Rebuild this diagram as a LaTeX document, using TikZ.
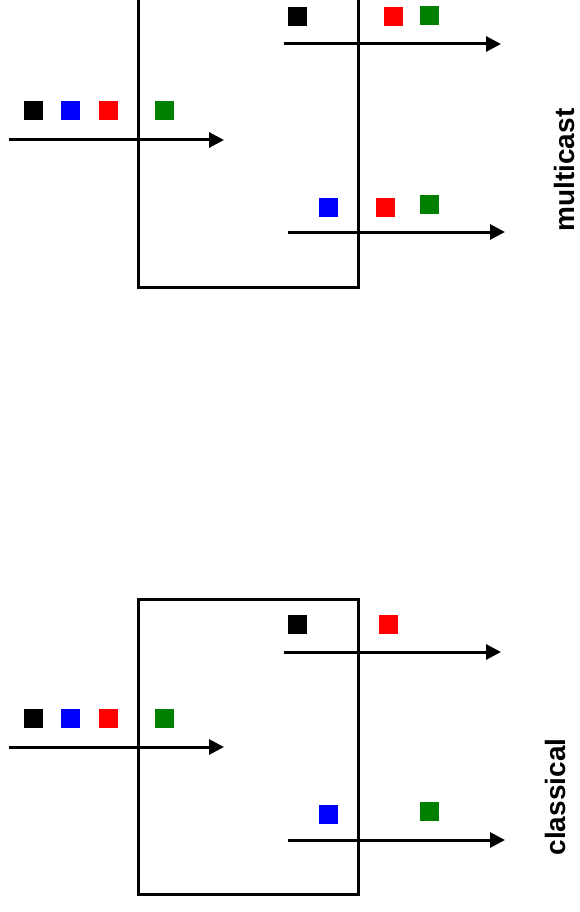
\documentclass[tikz,border=0pt]{standalone}
\usepackage{fontspec}
\newfontfamily\labelfont{Liberation Sans}
\usepackage{tikz}
\usetikzlibrary{arrows.meta,positioning}

\definecolor{pktgreen}{RGB}{0,128,0}

\begin{document}
\begin{tikzpicture}[
  x=1pt, y=-1pt,
  box/.style={draw, line width=3pt, minimum width=220pt, minimum height=295pt, inner sep=0pt},
  pkt/.style={rectangle, inner sep=0pt, minimum size=19pt},
  arr/.style={-{Triangle[length=15pt,width=15pt]}, line width=3pt},
  tag/.style={rotate=90, font=\labelfont\bfseries\fontsize{28}{32}\selectfont}
]
  \useasboundingbox (0,0) rectangle (579,912);
  \clip (0,0) rectangle (579,912);

  % multicast (upper half, box runs off the top)
  \begin{scope}[shift={(0,-607)}]
    \node[box] (mbox) at (248,746.5) {};
    \coordinate (min0) at (9,747);
    \coordinate (min1) at (224,747);
    \coordinate (mouta0) at (284,651);
    \coordinate (mouta1) at (501,651);
    \coordinate (moutb0) at (288,839);
    \coordinate (moutb1) at (505,839);

    \node[pkt, fill=black] (mk) at (33,718) {};
    \node[pkt, fill=blue] (mb) at (70.5,718) {};
    \node[pkt, fill=red] (mr) at (108,718) {};
    \node[pkt, fill=pktgreen] (mg) at (164.5,718) {};

    \node[pkt, fill=black] (mak) at (297,623.5) {};
    \node[pkt, fill=red] (mar) at (393,624) {};
    \node[pkt, fill=pktgreen] (mag) at (429,623) {};

    \node[pkt, fill=blue] (mbb) at (328,814) {};
    \node[pkt, fill=red] (mbr) at (385.5,814.5) {};
    \node[pkt, fill=pktgreen] (mbg) at (429,811) {};

    \draw[arr] (min0) -- (min1);
    \draw[arr] (mouta0) -- (mouta1);
    \draw[arr] (moutb0) -- (moutb1);
  \end{scope}
  \node[tag] (mlabel) at (564,170) {multicast};

  % classical (lower half)
  \node[box] (cbox) at (248,746.5) {};
  \coordinate (cin0) at (9,747);
  \coordinate (cin1) at (224,747);
  \coordinate (couta0) at (284,652);
  \coordinate (couta1) at (501,652);
  \coordinate (coutb0) at (288,840);
  \coordinate (coutb1) at (505,840);

  \node[pkt, fill=black] (ck) at (33,718) {};
  \node[pkt, fill=blue] (cb) at (70.5,718) {};
  \node[pkt, fill=red] (cr) at (108,718) {};
  \node[pkt, fill=pktgreen] (cg) at (164.5,718) {};

  \node[pkt, fill=black] (cak) at (297,624) {};
  \node[pkt, fill=red] (car) at (388,624) {};

  \node[pkt, fill=blue] (cbb) at (328,814) {};
  \node[pkt, fill=pktgreen] (cbg) at (429,811) {};

  \draw[arr] (cin0) -- (cin1);
  \draw[arr] (couta0) -- (couta1);
  \draw[arr] (coutb0) -- (coutb1);

  \node[tag] (clabel) at (555,797) {classical};
\end{tikzpicture}
\end{document}
